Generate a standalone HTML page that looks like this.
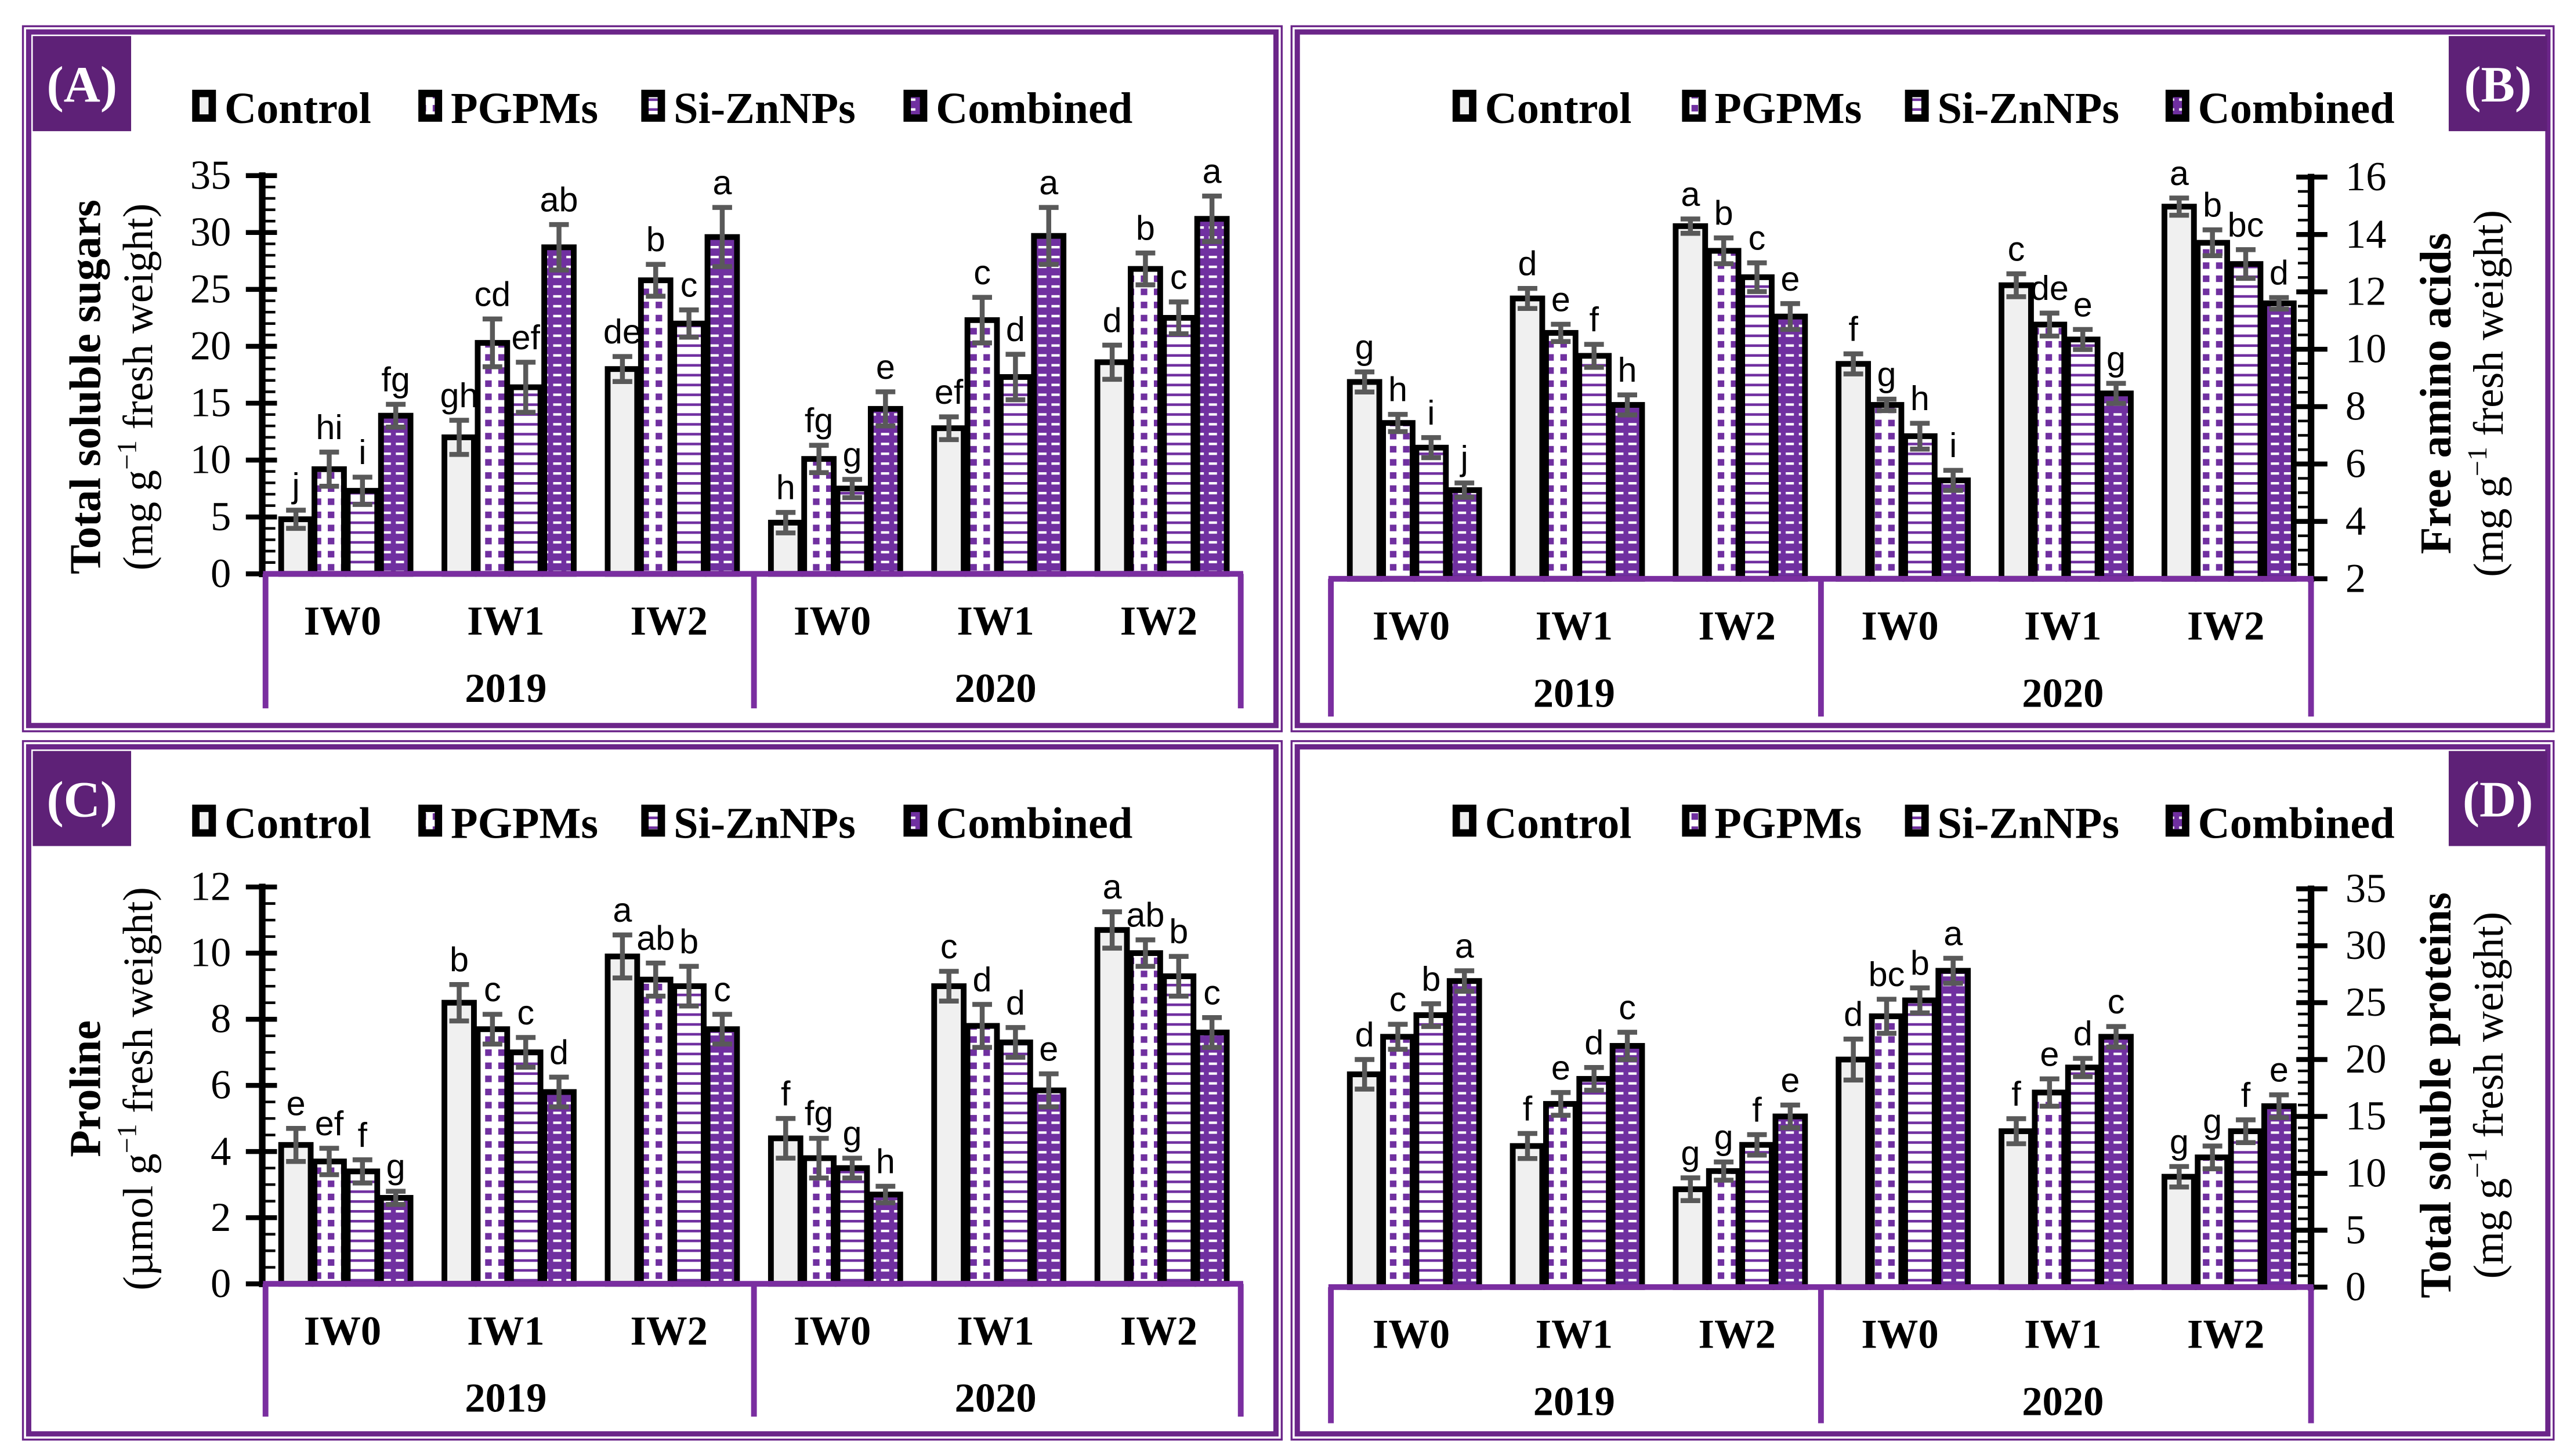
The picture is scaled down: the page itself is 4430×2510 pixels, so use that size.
<!DOCTYPE html>
<html><head><meta charset="utf-8">
<style>
html,body{margin:0;padding:0;background:#fff;}
svg{display:block;}
text{font-family:"Liberation Serif",serif;}
</style></head>
<body>
<svg id="fig" width="4430" height="2510" viewBox="0 0 1568 888" preserveAspectRatio="none" xmlns="http://www.w3.org/2000/svg">
<defs>
<pattern id="pPG" patternUnits="userSpaceOnUse" width="8" height="8">
<rect width="8" height="8" fill="#fff"/><rect x="0" y="0" width="4" height="4" fill="#7030a0"/>
</pattern>
<pattern id="pSI" patternUnits="userSpaceOnUse" width="8" height="6">
<rect width="8" height="6" fill="#fff"/><rect x="0" y="0" width="8" height="1.6" fill="#7030a0"/>
</pattern>
<pattern id="pCO" patternUnits="userSpaceOnUse" width="8" height="6">
<rect width="8" height="6" fill="#7030a0"/><rect x="1.5" y="0" width="5" height="1.5" fill="#fff"/>
</pattern>
</defs>
<g id="root"></g>
</svg>
<script>
const NS="http://www.w3.org/2000/svg";
const root=document.getElementById('root');
const treatments=["Control","PGPMs","Si-ZnNPs","Combined"];
const groups=["IW0","IW1","IW2","IW0","IW1","IW2"];
const years=["2019","2020"];
// Panel A: Total soluble sugars
const sugarsControl=[4.8,12,18,4.5,12.8,18.6];
const sugarsPGPM=[9.2,20.3,25.8,10.1,22.3,26.8];
const sugarsSiZn=[7.3,16.4,22,7.5,17.3,22.5];
const sugarsComb=[13.9,28.7,29.6,14.5,29.7,31.2];
const sugarsErr=[[0.8,1.5,1.1,0.9,1.0,1.5],[1.5,2.1,1.4,1.2,2.0,1.4],[1.2,2.2,1.2,0.8,2.0,1.4],[1.0,2.0,2.6,1.5,2.5,2.0]];
const sugarsLetters=[["j","gh","de","h","ef","d"],["hi","cd","b","fg","c","b"],["i","ef","c","g","d","c"],["fg","ab","a","e","a","a"]];
const sugarsTicks=[0,5,10,15,20,25,30,35];
// Panel B: Free amino acids
const aminoControl=[8.86,11.77,14.29,9.49,12.23,14.97];
const aminoPGPM=[7.43,10.57,13.43,8.06,10.86,13.71];
const aminoSiZn=[6.57,9.77,12.51,6.97,10.34,12.97];
const aminoComb=[5.09,8.06,11.14,5.43,8.46,11.6];
const aminoErr=[[0.35,0.35,0.25,0.35,0.4,0.3],[0.3,0.3,0.45,0.2,0.4,0.45],[0.35,0.4,0.5,0.45,0.35,0.5],[0.25,0.35,0.45,0.35,0.35,0.2]];
const aminoLetters=[["g","d","a","f","c","a"],["h","e","b","g","de","b"],["i","f","c","h","e","bc"],["j","h","e","i","g","d"]];
const aminoTicks=[2,4,6,8,10,12,14,16];
// Panel C: Proline
const prolControl=[4.2,8.5,9.9,4.4,9.0,10.7];
const prolPGPM=[3.7,7.7,9.2,3.8,7.8,10.0];
const prolSiZn=[3.4,7.0,9.0,3.5,7.3,9.3];
const prolComb=[2.6,5.8,7.7,2.7,5.85,7.6];
const prolErr=[[0.5,0.55,0.65,0.6,0.45,0.55],[0.4,0.45,0.5,0.6,0.65,0.4],[0.35,0.45,0.6,0.3,0.45,0.6],[0.2,0.45,0.45,0.25,0.5,0.45]];
const prolLetters=[["e","b","a","f","c","a"],["ef","c","ab","fg","d","ab"],["f","c","b","g","d","b"],["g","d","c","h","e","c"]];
const prolTicks=[0,2,4,6,8,10,12];
// Panel D: Total soluble proteins
const protControl=[18.7,12.4,8.6,20,13.7,9.7];
const protPGPM=[22,16.1,10.2,23.8,17.1,11.4];
const protSiZn=[23.9,18.3,12.5,25.2,19.3,13.7];
const protComb=[26.9,21.2,15,27.8,22,15.9];
const protErr=[[1.3,1.1,1.0,1.8,1.1,0.9],[1.1,1.0,0.8,1.5,1.2,1.0],[1.0,1.0,0.9,1.1,0.8,1.0],[0.9,1.2,1.0,1.1,0.9,1.0]];
const protLetters=[["d","f","g","d","f","g"],["c","e","g","bc","e","g"],["b","d","f","b","d","f"],["a","c","e","a","c","e"]];
const protTicks=[0,5,10,15,20,25,30,35];

function el(tag,attrs,parent,text){const e=document.createElementNS(NS,tag);for(const k in attrs)e.setAttribute(k,attrs[k]);if(text!==undefined)e.textContent=text;(parent||root).appendChild(e);return e;}
const PURPLE="#6b2589", BOXP="#7a2ea0";
const fills=["#f0f0f0","url(#pPG)","url(#pSI)","url(#pCO)"];

function panel(o){
  const g=el('g',{});
  
  
  const b1=el('rect',{x:o.x,y:o.y,width:o.w,height:o.h,fill:'none',stroke:PURPLE,'stroke-width':1.2},g);
  
  const b2=el('rect',{x:o.x+3.5,y:o.y+3.5,width:o.w-7,height:o.h-7,fill:'none',stroke:PURPLE,'stroke-width':3.2},g);
  
  const lb=el('rect',{x:o.labX,y:o.y+6,width:60,height:58,fill:'#5e2177'},g);
  
  const lt=el('text',{x:o.labX+30,y:o.y+46,'text-anchor':'middle','font-size':31,'font-weight':'bold',fill:'#fff'},g,o.label);
  
  for(let i=0;i<4;i++){
    const lg=el('g',{},g);
    
    
    el('rect',{x:o.legX[i]+3.5,y:o.y+41,width:10,height:15,fill:fills[i],stroke:'#000','stroke-width':4.5},lg);
    el('text',{x:o.legX[i]+21,y:o.y+59,'font-size':27,'font-weight':'bold'},lg,treatments[i]);
  }
  const yS=v=>o.y0-(v-o.vmin)*o.ppu;
  const ax=el('g',{},g);
  
  const top=yS(o.ticks[o.ticks.length-1]);
  el('line',{x1:o.axX,y1:top-2,x2:o.axX,y2:o.y0+2,stroke:'#000','stroke-width':4},ax);
  const dir=o.right?1:-1;
  const step=(o.ticks[1]-o.ticks[0])/o.minorPer;
  for(let v=o.vmin;v<=o.ticks[o.ticks.length-1]+1e-6;v+=step){
    el('line',{x1:o.axX-dir*8,y1:yS(v),x2:o.axX,y2:yS(v),stroke:'#000','stroke-width':1.6},ax);
  }
  o.ticks.forEach(t=>{
    el('line',{x1:o.axX-dir*9,y1:yS(t),x2:o.axX+dir*10,y2:yS(t),stroke:'#000','stroke-width':3},ax);
    const tl=el('text',{x:o.right?o.axX+21:o.axX-19,y:yS(t)+8,'font-size':25,'text-anchor':o.right?'start':'end'},ax,String(t));
    
  });
  const t1=el('text',{transform:`translate(${o.t1x},${o.tcy}) rotate(-90)`,'text-anchor':'middle','font-size':27,'font-weight':'bold'},g,o.title);
  
  const t2=el('text',{transform:`translate(${o.t2x},${o.tcy}) rotate(-90)`,'text-anchor':'middle','font-size':26},g);
  
  t2.innerHTML=o.unit+' g<tspan dy="-10" font-size="17">−1</tspan><tspan dy="10"> fresh weight)</tspan>';
  const series=o.series;
  for(let gi=0;gi<6;gi++){
    const cx=o.gx0+gi*o.gsp;
    for(let s=0;s<4;s++){
      const v=series[s][gi];
      const bx=cx+(s-1.5)*20.3-9;
      const yb=yS(v);
      const r=el('rect',{x:bx,y:yb,width:18,height:o.y0-yb,fill:fills[s],stroke:'#000','stroke-width':3.5},g);
      
      
      const e=o.err[s][gi];
      const eg=el('g',{stroke:'#595959','stroke-width':3},g);
      
      const bc=bx+9;
      el('line',{x1:bc,y1:yS(v+e),x2:bc,y2:yS(v-e)},eg);
      el('line',{x1:bc-6,y1:yS(v+e),x2:bc+6,y2:yS(v+e)},eg);
      el('line',{x1:bc-6,y1:yS(v-e),x2:bc+6,y2:yS(v-e)},eg);
      const lt2=el('text',{x:bc,y:yS(v+e)-8,'text-anchor':'middle','font-size':21,style:'font-family:"Liberation Sans",sans-serif'},g,o.letters[s][gi]);
      
    }
  }
  const cb=el('g',{},g);
  
  el('path',{d:`M${o.bx1},${o.y0} L${o.bx1},${o.by} M${o.bmid},${o.y0} L${o.bmid},${o.by} M${o.bx2},${o.y0} L${o.bx2},${o.by} M${o.bx1-1.5},${o.y0} L${o.bx2+1.5},${o.y0}`,stroke:BOXP,'stroke-width':3.5,fill:'none'},cb);
  for(let gi=0;gi<6;gi++){
    const c=el('text',{x:o.gx0+gi*o.gsp-2,y:o.y0+37,'text-anchor':'middle','font-size':25,'font-weight':'bold'},cb,groups[gi]);
    
  }
  for(let yi=0;yi<2;yi++){
    const c=el('text',{x:o.gx0+(1+3*yi)*o.gsp-2,y:o.y0+78,'text-anchor':'middle','font-size':25,'font-weight':'bold'},cb,years[yi]);
    
  }
}
const legL=[116,254,390,550], legR=[885,1025,1161,1320];
panel({name:'panel-a-total-soluble-sugars',x:14,y:16,w:768,h:430,label:'(A)',labX:20,legX:legL,
  y0:350,vmin:0,ppu:6.94,axX:160,right:false,ticks:sugarsTicks,minorPer:5,
  title:'Total soluble sugars',unit:'(mg',t1x:61,t2x:93,tcy:236,
  series:[sugarsControl,sugarsPGPM,sugarsSiZn,sugarsComb],err:sugarsErr,letters:sugarsLetters,
  gx0:211,gsp:99.6,bx1:162,bmid:460,bx2:757,by:432});
panel({name:'panel-b-free-amino-acids',x:788,y:16,w:770,h:430,label:'(B)',labX:1494,legX:legR,
  y0:353,vmin:2,ppu:17.5,axX:1410,right:true,ticks:aminoTicks,minorPer:4,
  title:'Free amino acids',unit:'(mg',t1x:1495,t2x:1527,tcy:240,
  series:[aminoControl,aminoPGPM,aminoSiZn,aminoComb],err:aminoErr,letters:aminoLetters,
  gx0:863,gsp:99.4,bx1:812,bmid:1111,bx2:1410,by:437});
panel({name:'panel-c-proline',x:14,y:452,w:768,h:426,label:'(C)',labX:20,legX:legL,
  y0:783,vmin:0,ppu:20.17,axX:160,right:false,ticks:prolTicks,minorPer:4,
  title:'Proline',unit:'(µmol',t1x:61,t2x:93,tcy:664,
  series:[prolControl,prolPGPM,prolSiZn,prolComb],err:prolErr,letters:prolLetters,
  gx0:211,gsp:99.6,bx1:162,bmid:460,bx2:757,by:864});
panel({name:'panel-d-total-soluble-proteins',x:788,y:452,w:770,h:426,label:'(D)',labX:1494,legX:legR,
  y0:785,vmin:0,ppu:6.94,axX:1410,right:true,ticks:protTicks,minorPer:5,
  title:'Total soluble proteins',unit:'(mg',t1x:1495,t2x:1527,tcy:668,
  series:[protControl,protPGPM,protSiZn,protComb],err:protErr,letters:protLetters,
  gx0:863,gsp:99.4,bx1:812,bmid:1111,bx2:1410,by:868});
</script>
</body></html>
